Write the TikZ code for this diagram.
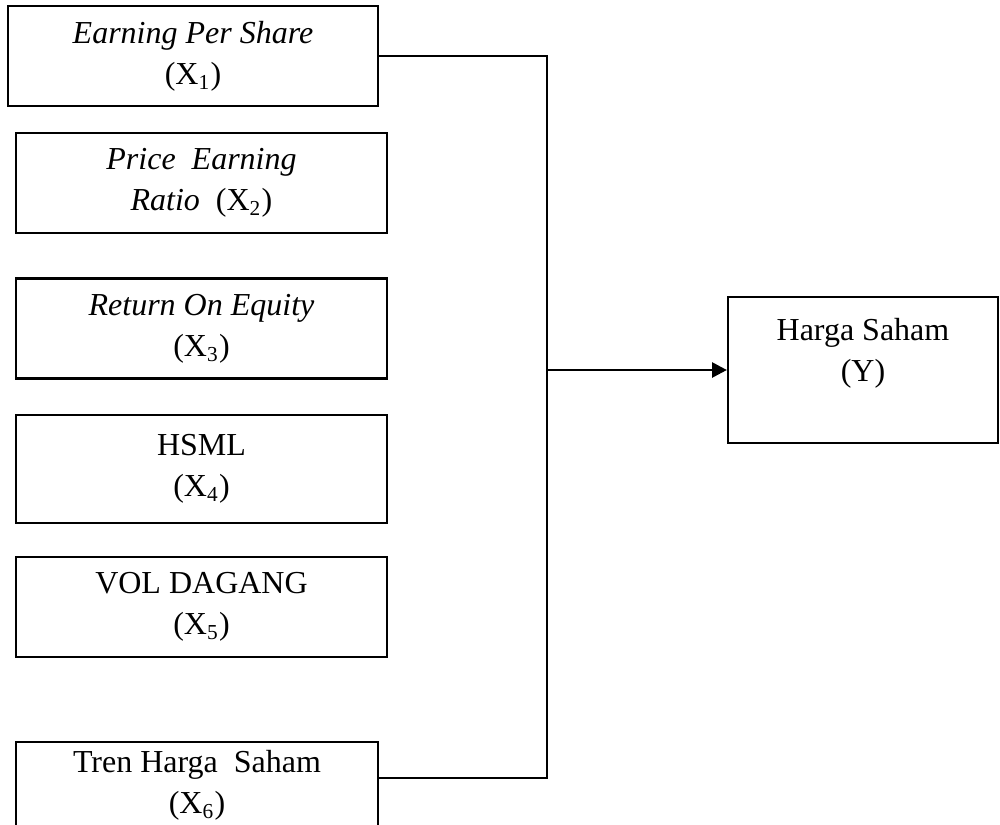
\documentclass[tikz,border=0pt]{standalone}
\usepackage{fontspec}
\setmainfont{Liberation Serif}
\usetikzlibrary{arrows.meta}

\tikzset{
    kotak/.style={draw, line width=0.8pt, inner sep=0pt, align=center,
        font=\fontsize{12pt}{15.4pt}\selectfont},
    kotakkiri/.style={kotak, minimum width=139.1pt, minimum height=37.5pt},
    garis/.style={line width=1.1pt},
}

\begin{document}
\begin{tikzpicture}[x=0.375pt, y=-0.375pt]
            \useasboundingbox (0,0) rectangle (1000,825);

            % variabel bebas
            \node [kotakkiri, minimum width=138.75pt] (eps) at (193,56) {\textit{Earning Per Share}\\(X\textsubscript{1})};
            \node [kotakkiri] (per) at (201.5,183) {\textit{Price~~Earning}\\\textit{Ratio}~~(X\textsubscript{2})};
            \node [kotakkiri] (roe) at (201.5,328.5) {\textit{Return On Equity}\\(X\textsubscript{3})};
            \node [kotakkiri, minimum height=40.5pt] (hsml) at (201.5,469) {HSML\\(X\textsubscript{4})};
            \node [kotakkiri] (vol) at (201.5,607) {VOL DAGANG\\(X\textsubscript{5})};
            \node [kotakkiri, minimum width=135.75pt, minimum height=32.25pt] (tren) at (197,785) {Tren Harga~~Saham\\(X\textsubscript{6})};

            % variabel terikat
            \node [kotak, minimum width=101.25pt, minimum height=54.75pt] (harga) at (863,370) {Harga Saham\\(Y)\\\mbox{}};

            % garis
            \coordinate (simpul) at (547,370);
            \coordinate (trenkanan) at (378,778);
            \draw [garis] (eps.east) -| (simpul) |- (trenkanan);
            \draw [garis, -{Triangle[length=5.6pt, width=5.6pt]}] (simpul) -- (harga.west);
        \end{tikzpicture}
\end{document}
